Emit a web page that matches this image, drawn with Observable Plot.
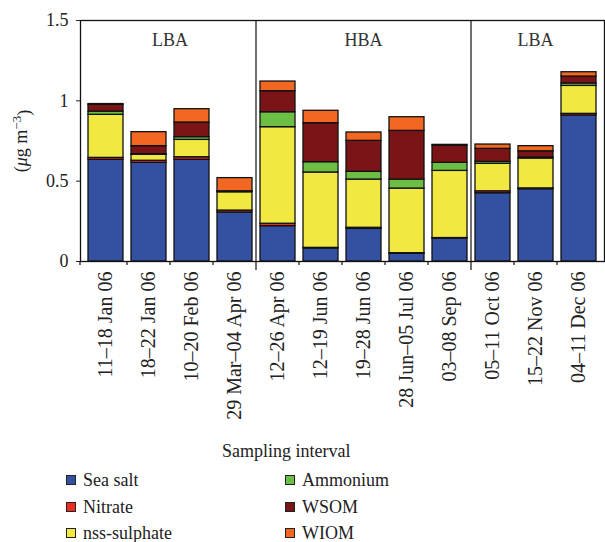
<!DOCTYPE html>
<html><head><meta charset="utf-8">
<script src="https://cdn.jsdelivr.net/npm/d3@7"></script>
<script src="https://cdn.jsdelivr.net/npm/@observablehq/plot@0.6"></script>
<style>
body{margin:0;background:#fff;}
#wrap{position:relative;width:605px;height:542px;font-family:'Liberation Serif',serif;color:#222;background:#fff;}
#chart{position:absolute;left:0;top:0;}
#chart svg{font-family:'Liberation Serif',serif;}
#xlabel{position:absolute;left:222px;top:441px;font-size:18px;white-space:nowrap;}
.leg{position:absolute;font-size:18px;white-space:nowrap;line-height:20px;}
.leg span.sw{display:inline-block;width:8px;height:8px;border:1.3px solid #222;margin-right:7px;vertical-align:1px;}
</style></head><body>
<div id="wrap"><div id="chart"></div><div id="xlabel">Sampling interval</div><div id="legend"></div></div>
<script>
const intervals = ["11–18 Jan 06","18–22 Jan 06","10–20 Feb 06","29 Mar–04 Apr 06","12–26 Apr 06","12–19 Jun 06","19–28 Jun 06","28 Jun–05 Jul 06","03–08 Sep 06","05–11 Oct 06","15–22 Nov 06","04–11 Dec 06"];
const seaSalt  = [0.633,0.614,0.633,0.305,0.220,0.081,0.203,0.048,0.143,0.425,0.450,0.909];
const nitrate  = [0.012,0.013,0.016,0.012,0.015,0.004,0.007,0.004,0.003,0.012,0.005,0.010];
const sulphate = [0.268,0.037,0.108,0.114,0.601,0.469,0.300,0.402,0.418,0.171,0.186,0.174];
const ammonium = [0.020,0.004,0.017,0.003,0.093,0.064,0.048,0.056,0.050,0.012,0.006,0.015];
const wsom     = [0.042,0.050,0.091,0.003,0.131,0.243,0.193,0.303,0.106,0.081,0.039,0.043];
const wiom     = [0.005,0.087,0.083,0.082,0.060,0.077,0.052,0.085,0.006,0.027,0.032,0.027];
const componentNames  = ["Sea salt","Nitrate","nss-sulphate","Ammonium","WSOM","WIOM"];
const componentColors = ["#3450A0","#EE2A24","#F1E841","#6CBE45","#7A1416","#F26722"];
const periodNames = ["LBA","HBA","LBA"];
const periodFirst = [0,4,9];
const periodLast  = [3,8,11];
const yTicks = [0,0.5,1,1.5];
const yTickLabels = ["0","0.5","1","1.5"];

const series = [seaSalt,nitrate,sulphate,ammonium,wsom,wiom];
const rows = intervals.flatMap((iv,i)=>componentNames.map((c,k)=>({interval:iv,component:c,value:series[k][i]})));

const pInner = 0.18, pOuter = 0.07;
const plot = Plot.plot({
  width:605, height:440, marginTop:20, marginLeft:80, marginRight:1, marginBottom:179,
  style:{fontFamily:"'Liberation Serif',serif", fontSize:"18px", color:"#222", background:"white"},
  x:{type:"band", domain:intervals, paddingInner:pInner, paddingOuter:pOuter, label:null},
  y:{domain:[0,1.5], label:null},
  color:{domain:componentNames, range:componentColors},
  marks:[
    Plot.barY(rows, Plot.stackY({x:"interval", y:"value", fill:"component", order:componentNames, stroke:"#111", strokeWidth:1.3})),
    Plot.frame({stroke:"#111", strokeWidth:1.3}),
    Plot.axisY({ticks:yTicks, tickFormat:(d,i)=>yTickLabels[yTicks.indexOf(d)], tickSize:4, tickPadding:8, label:"(μg m−3)", labelAnchor:"center", labelOffset:66, labelArrow:"none"}),
    Plot.axisX({tickSize:0, tickPadding:10, tickRotate:-90, label:null, fontSize:20})
  ]
});
document.getElementById("chart").appendChild(plot);

// annotations computed through the plot's own scales
const xs = plot.scale("x"), ys = plot.scale("y");
const n = intervals.length;
const [r0, r1] = xs.range;
const step = xs.step ?? (r1 - r0) / (n - pInner + 2 * pOuter);
const bw = xs.bandwidth ?? step * (1 - pInner);
const xAt = (i) => xs.apply ? xs.apply(intervals[i]) : r0 + step * pOuter + i * step;
const yAt = (v) => ys.apply ? ys.apply(v) : ys.range[0] + (ys.range[1]-ys.range[0]) * (v - ys.domain[0]) / (ys.domain[1]-ys.domain[0]);
const y0 = yAt(0), yTop = yAt(1.5);
const svg = d3.select(plot);
const g = svg.append("g").attr("stroke","#111").attr("stroke-width",1.2);
const bounds = [r0, ...d3.range(n-1).map(i => xAt(i) + bw + (step - bw)/2)];
const seps = periodLast.slice(0,-1);
bounds.forEach((b, k) => {
  const isSep = seps.includes(k-1);
  g.append("line").attr("x1",b).attr("x2",b).attr("y1", isSep ? yTop : y0).attr("y2", y0 + (isSep ? 9 : 4));
});
const tg = svg.append("g").attr("text-anchor","middle").attr("fill","#333").attr("font-size",18);
periodNames.forEach((name, k) => {
  const cx = (xAt(periodFirst[k]) + xAt(periodLast[k]) + bw) / 2;
  tg.append("text").attr("x", cx).attr("y", yTop + 26).text(name);
});

// rich y label
svg.selectAll("text").filter(function(){ return this.textContent === "(μg m−3)"; }).each(function(){
  const t = d3.select(this); t.text(null);
  t.append("tspan").text("(");
  t.append("tspan").attr("font-style","italic").text("μ");
  t.append("tspan").text("g m");
  t.append("tspan").attr("dy","-0.45em").attr("font-size","13px").text("−3");
  t.append("tspan").attr("dy","0.45em").text(")");
});

// legend
const legend = document.getElementById("legend");
const legX = [66, 285], legTop = [470, 497, 523];
componentNames.forEach((name, k) => {
  const d = document.createElement("div");
  d.className = "leg";
  d.style.left = legX[Math.floor(k/3)] + "px";
  d.style.top = legTop[k%3] + "px";
  d.innerHTML = `<span class="sw" style="background:${componentColors[k]}"></span>${name}`;
  legend.appendChild(d);
});
</script></body></html>
